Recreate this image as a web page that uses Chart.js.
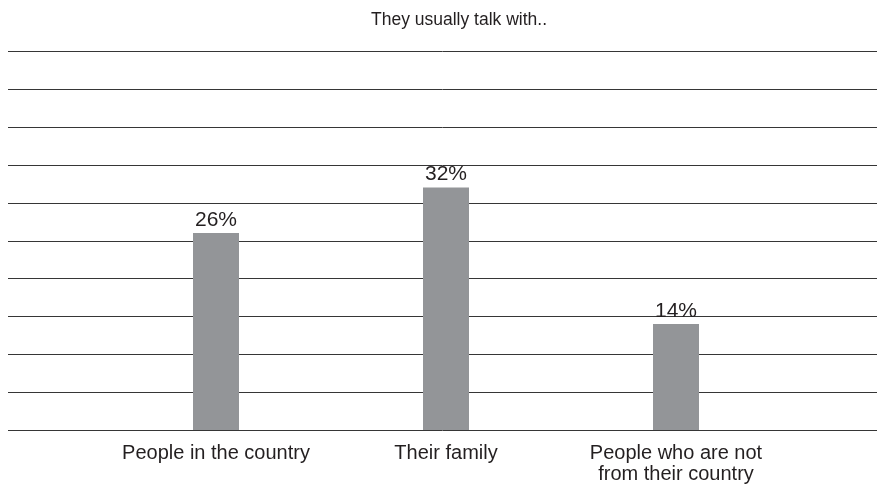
<!DOCTYPE html>
<html lang="en">
<head>
    <meta charset="UTF-8">
    <title>They usually talk with..</title>
    <script src="https://cdn.jsdelivr.net/npm/chart.js"></script>
    <style>
        html, body { margin: 0; padding: 0; background: #fff; }
        #wrap { width: 877px; height: 486px; position: relative; }
    </style>
</head>
<body>

<div id="wrap">
    <canvas id="talkChart"></canvas>
</div>

<script>
    // Survey answers
    const categories = [
        'People in the country',
        'Their family',
        ['People who are not', 'from their country']
    ];
    const shares = [26, 32, 14];
    const yMax = 50;
    const yStep = 5;
    const heading = 'They usually talk with..';

    const textColor = '#231f20';
    const fontFamily = '"Liberation Sans", Arial, Helvetica, sans-serif';

    // Horizontal rules run across the full width, not only the plot area
    const ruleLines = {
        id: 'ruleLines',
        beforeDatasetsDraw(chart) {
            const ctx = chart.ctx;
            const y = chart.scales.y;
            ctx.save();
            ctx.strokeStyle = '#363636';
            ctx.lineWidth = 1;
            y.ticks.forEach(t => {
                const py = Math.round(y.getPixelForValue(t.value)) + 0.5;
                ctx.beginPath();
                ctx.moveTo(8, py);
                ctx.lineTo(chart.width, py);
                ctx.stroke();
            });
            ctx.restore();
        }
    };

    // Heading, percent labels above each bar
    const textLayer = {
        id: 'textLayer',
        afterDatasetsDraw(chart) {
            const ctx = chart.ctx;
            const meta = chart.getDatasetMeta(0);
            ctx.save();
            ctx.fillStyle = textColor;
            ctx.textAlign = 'center';

            ctx.font = '17.5px ' + fontFamily;
            ctx.textBaseline = 'middle';
            ctx.fillText(heading, 459, 20);

            ctx.font = '21px ' + fontFamily;
            ctx.textBaseline = 'alphabetic';
            meta.data.forEach((bar, i) => {
                ctx.fillText(shares[i] + '%', bar.x, bar.y - 7);
            });
            ctx.restore();
        }
    };

    new Chart(document.getElementById('talkChart'), {
        type: 'bar',
        data: {
            labels: categories,
            datasets: [{
                data: shares,
                backgroundColor: '#939598',
                borderWidth: 0,
                barPercentage: 0.2,
                categoryPercentage: 1
            }]
        },
        options: {
            responsive: true,
            maintainAspectRatio: false,
            animation: false,
            layout: {
                padding: { left: 101, right: 86, top: 51, bottom: -12 }
            },
            plugins: {
                legend: { display: false },
                tooltip: { enabled: false },
                title: { display: false }
            },
            scales: {
                x: {
                    grid: { display: false, drawTicks: false },
                    border: { display: false },
                    ticks: {
                        color: textColor,
                        padding: 13,
                        maxRotation: 0,
                        autoSkip: false,
                        font: { family: fontFamily, size: 20, lineHeight: '21px' }
                    }
                },
                y: {
                    display: false,
                    min: 0,
                    max: yMax,
                    ticks: { stepSize: yStep }
                }
            }
        },
        plugins: [ruleLines, textLayer]
    });
</script>

</body>
</html>
